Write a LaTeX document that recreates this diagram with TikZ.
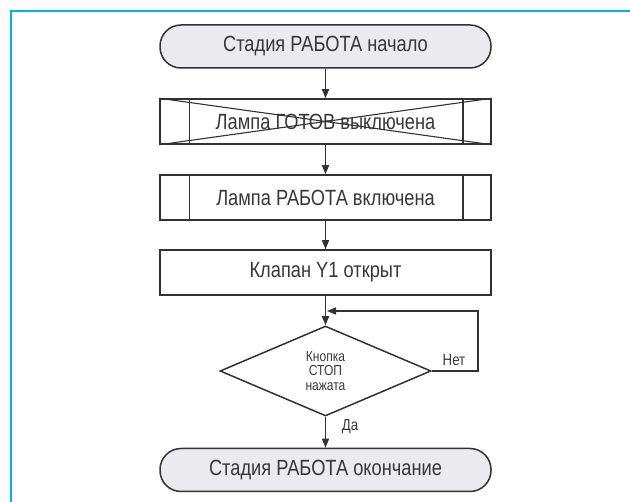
\documentclass[tikz,border=0pt]{standalone}
\usepackage{fontspec}
\setmainfont{Liberation Sans}[FakeStretch=0.83]
\usetikzlibrary{shapes.geometric,arrows.meta,calc}
\definecolor{framecyan}{RGB}{0,178,238}
\definecolor{linegray}{RGB}{50,50,50}
\definecolor{textgray}{RGB}{55,55,55}
\definecolor{termfill}{RGB}{235,235,239}
\begin{document}
\begin{tikzpicture}[x=1pt,y=-1pt,
  every node/.style={text=textgray},
  base/.style={draw=linegray,line width=1.5pt,minimum width=331pt,inner sep=0pt,font=\fontsize{22}{24}\selectfont},
  terminal/.style={base,fill=termfill,minimum height=43pt,rounded corners=21pt},
  procbox/.style={base,minimum height=45pt},
  decision/.style={diamond,draw=linegray,line width=1.5pt,minimum width=211pt,minimum height=90pt,inner sep=0pt,aspect=2.34,align=center,font=\fontsize{14.5}{14.5}\selectfont},
  flow/.style={draw=linegray,line width=1.5pt,-{Triangle[length=9pt,width=7pt]}},
  edgelabel/.style={font=\fontsize{16}{17}\selectfont}
]
\useasboundingbox (0,0) rectangle (630,502);
% outer frame
\draw[framecyan,line width=2.4pt] (11,502) -- (11,11) -- (630,11);

% blocks
\node[terminal] (start) at (325.5,46.5) {Стадия РАБОТА начало};
\node[procbox] (lampoff) at (325.5,121.5) {Лампа ГОТОВ выключена};
\node[procbox] (lampon) at (325.5,197.5) {Лампа РАБОТА включена};
\node[procbox] (valve) at (325.5,272.5) {Клапан Y1 открыт};
\node[decision] (stop) at (325.5,371) {Кнопка\\СТОП\\нажата};
\node[terminal] (finish) at (325.5,470) {Стадия РАБОТА окончание};

% side bars of the predefined-process boxes
\foreach \b in {lampoff,lampon}{
  \draw[linegray,line width=1.5pt] ($(\b.north west)+(30,0)$) -- ($(\b.south west)+(30,0)$);
  \draw[linegray,line width=1.5pt] ($(\b.north east)+(-29,0)$) -- ($(\b.south east)+(-29,0)$);
}
% crossing lines
\draw[linegray,line width=1.1pt] (lampoff.north west) -- (lampoff.south east);
\draw[linegray,line width=1.1pt] (lampoff.south west) -- (lampoff.north east);

% connectors
\draw[flow] (start) -- (lampoff);
\draw[flow] (lampoff) -- (lampon);
\draw[flow] (lampon) -- (valve);
\draw[flow] (valve) -- (stop);
\coordinate (join) at (327,311);
\draw[flow] (stop.east) -- ++(46,0) |- (join);
\draw[flow] (stop) -- (finish);

% branch labels
\node[edgelabel,anchor=south] (no) at (454,369) {Нет};
\node[edgelabel] (yes) at (350,427) {Да};
\end{tikzpicture}
\end{document}
